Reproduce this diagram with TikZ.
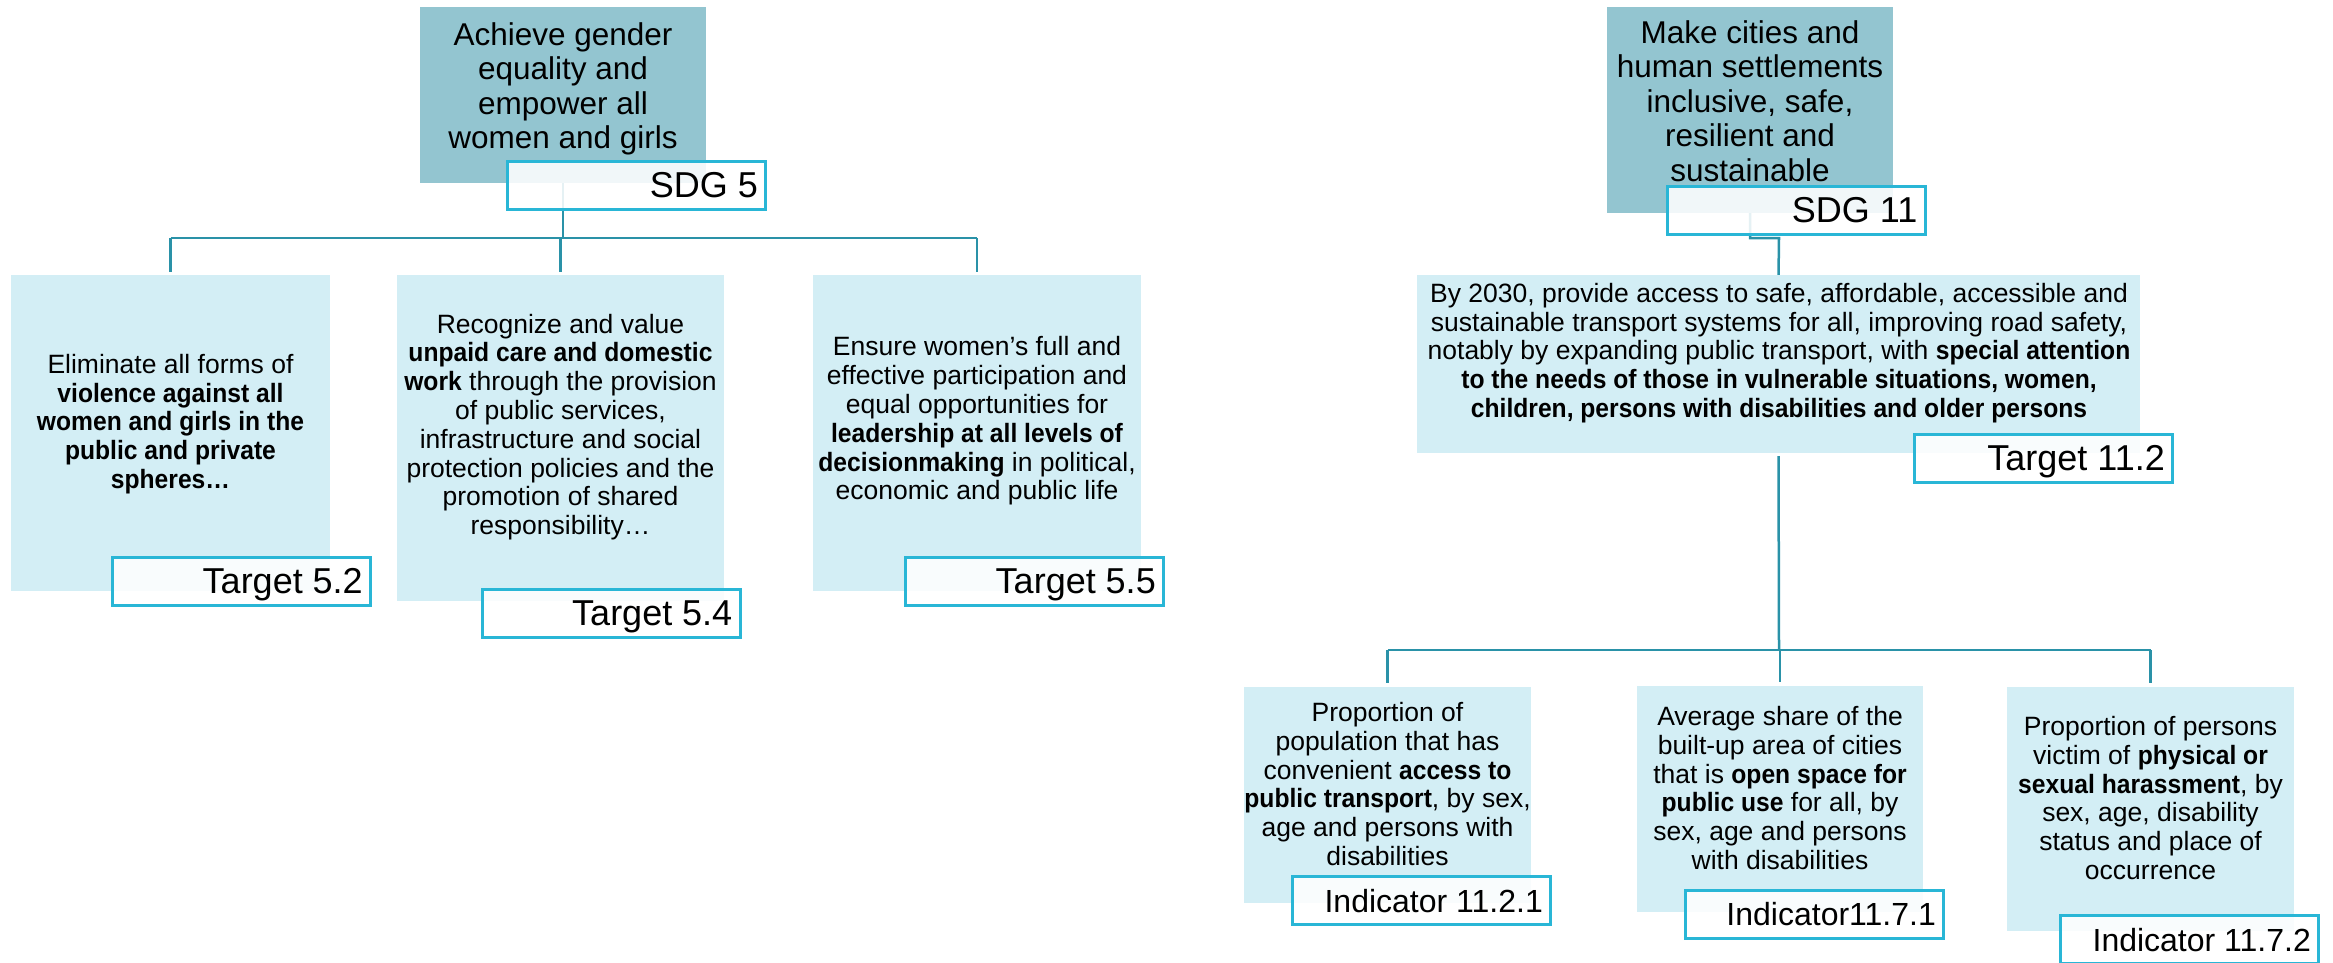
\documentclass[tikz,border=0pt]{standalone}
\usepackage{fontspec}
\setmainfont{Liberation Sans}[BoldFeatures={FakeStretch=0.93}]
\definecolor{hdrcol}{RGB}{147,197,208}
\definecolor{boxcol}{RGB}{211,238,245}
\definecolor{labcol}{RGB}{41,182,214}
\definecolor{conncol}{RGB}{42,146,168}
\begin{document}
\begin{tikzpicture}[x=1pt,y=-1pt,
  hdr/.style={rectangle, fill=hdrcol, inner sep=0pt},
  tbox/.style={rectangle, fill=boxcol, inner sep=0pt},
  lab/.style={rectangle, draw=labcol, line width=3pt, fill=white, fill opacity=0.88, minimum width=258pt, minimum height=48pt, inner sep=0pt},
  labtxt/.style={anchor=base east, font=\fontsize{36}{40}\selectfont, inner sep=0pt},
  indtxt/.style={anchor=base east, font=\fontsize{32}{36}\selectfont, inner sep=0pt},
  conn/.style={draw=conncol, line width=2.5pt},
  body/.style={align=center, font=\fontsize{26.5}{28.8}\selectfont, inner sep=0pt},
  htxt/.style={align=center, font=\fontsize{31.5}{34.5}\selectfont, inner sep=0pt}]
\useasboundingbox (0,0) rectangle (2333,963);

% ---------- boxes ----------
\node[hdr, minimum width=286pt, minimum height=176pt] (g5) at (563,95) {};
\node[hdr, minimum width=286pt, minimum height=206pt] (g11) at (1750,110) {};
\node[tbox, minimum width=319pt, minimum height=316pt] (b1) at (170.5,433) {};
\node[tbox, minimum width=327pt, minimum height=326pt] (b2) at (560.5,438) {};
\node[tbox, minimum width=328pt, minimum height=316pt] (b3) at (977,433) {};
\node[tbox, minimum width=723pt, minimum height=178pt] (t11) at (1778.5,364) {};
\node[tbox, minimum width=287pt, minimum height=216pt] (iA) at (1387.5,795) {};
\node[tbox, minimum width=286pt, minimum height=226pt] (iB) at (1780,799) {};
\node[tbox, minimum width=287pt, minimum height=244pt] (iC) at (2150.5,809) {};

% ---------- texts ----------
\node[htxt] (g5t) at (563,89) {Achieve gender\\equality and\\empower all\\women and girls};
\node[htxt] (g11t) at (1750,101) {Make cities and\\human settlements\\inclusive, safe,\\resilient and\\sustainable};
\node[body] (b1t) at (170.5,424) {Eliminate all forms of\\\textbf{violence against all}\\\textbf{women and girls in the}\\\textbf{public and private}\\\textbf{spheres…}};
\node[body] (b2t) at (560.5,427) {Recognize and value\\\textbf{unpaid care and domestic}\\\textbf{work} through the provision\\of public services,\\infrastructure and social\\protection policies and the\\promotion of shared\\responsibility…};
\node[body] (b3t) at (977,421) {Ensure women’s full and\\effective participation and\\equal opportunities for\\\textbf{leadership at all levels of}\\\textbf{decisionmaking} in political,\\economic and public life};
\node[body] (t11t) at (1779,353) {By 2030, provide access to safe, affordable, accessible and\\sustainable transport systems for all, improving road safety,\\notably by expanding public transport, with \textbf{special attention}\\\textbf{to the needs of those in vulnerable situations, women,}\\\textbf{children, persons with disabilities and older persons}};
\node[body] (iAt) at (1387.5,784) {Proportion of\\population that has\\convenient \textbf{access to}\\\textbf{public transport}, by sex,\\age and persons with\\disabilities};
\node[body] (iBt) at (1780,788) {Average share of the\\built-up area of cities\\that is \textbf{open space for}\\\textbf{public use} for all, by\\sex, age and persons\\with disabilities};
\node[body] (iCt) at (2150.5,798) {Proportion of persons\\victim of \textbf{physical or}\\\textbf{sexual harassment}, by\\sex, age, disability\\status and place of\\occurrence};

% ---------- connectors ----------
\coordinate (j5) at (563,238);
\coordinate (j11) at (1779,238);
\coordinate (j112) at (1779,650);
\draw[conn] (g5.south) -- (j5);
\draw[conn] (b1.north |- j5) -- (b3.north |- j5);
\draw[conn, shorten >=3pt] (b1.north |- j5) -- (b1.north);
\draw[conn, shorten >=3pt] (b2.north |- j5) -- (b2.north);
\draw[conn, shorten >=3pt] (b3.north |- j5) -- (b3.north);
\draw[conn] (g11.south) -- (g11.south |- j11) -- (j11) -- (t11.north);
\draw[conn, shorten <=3pt] (t11.south) -- (j112);
\draw[conn] (iA.north |- j112) -- (iC.north |- j112);
\draw[conn, shorten >=4pt] (iA.north |- j112) -- (iA.north);
\draw[conn, shorten >=4pt] (iB.north |- j112) -- (iB.north);
\draw[conn, shorten >=4pt] (iC.north |- j112) -- (iC.north);

% ---------- labels ----------
\node[lab] (s5) at (636.5,185.5) {};
\node[labtxt] (s5t) at ([xshift=-9pt,yshift=-12pt]s5.east) {SDG 5};
\node[lab] (s11) at (1796,210.5) {};
\node[labtxt] (s11t) at ([xshift=-9pt,yshift=-12pt]s11.east) {SDG 11};
\node[lab] (l52) at (241.5,581.5) {};
\node[labtxt] (l52t) at ([xshift=-9pt,yshift=-12pt]l52.east) {Target 5.2};
\node[lab] (l54) at (611,613.5) {};
\node[labtxt] (l54t) at ([xshift=-9pt,yshift=-12pt]l54.east) {Target 5.4};
\node[lab] (l55) at (1034.5,581) {};
\node[labtxt] (l55t) at ([xshift=-9pt,yshift=-12pt]l55.east) {Target 5.5};
\node[lab] (l112) at (2043.5,458) {};
\node[labtxt] (l112t) at ([xshift=-9pt,yshift=-12pt]l112.east) {Target 11.2};
\node[lab] (n1) at (1421.5,900.5) {};
\node[indtxt] (n1t) at ([xshift=-9pt,yshift=-11.5pt]n1.east) {Indicator 11.2.1};
\node[lab] (n2) at (1814.5,914) {};
\node[indtxt] (n2t) at ([xshift=-9pt,yshift=-11.5pt]n2.east) {Indicator11.7.1};
\node[lab] (n3) at (2189.5,939.5) {};
\node[indtxt] (n3t) at ([xshift=-9pt,yshift=-11.5pt]n3.east) {Indicator 11.7.2};
\end{tikzpicture}
\end{document}
